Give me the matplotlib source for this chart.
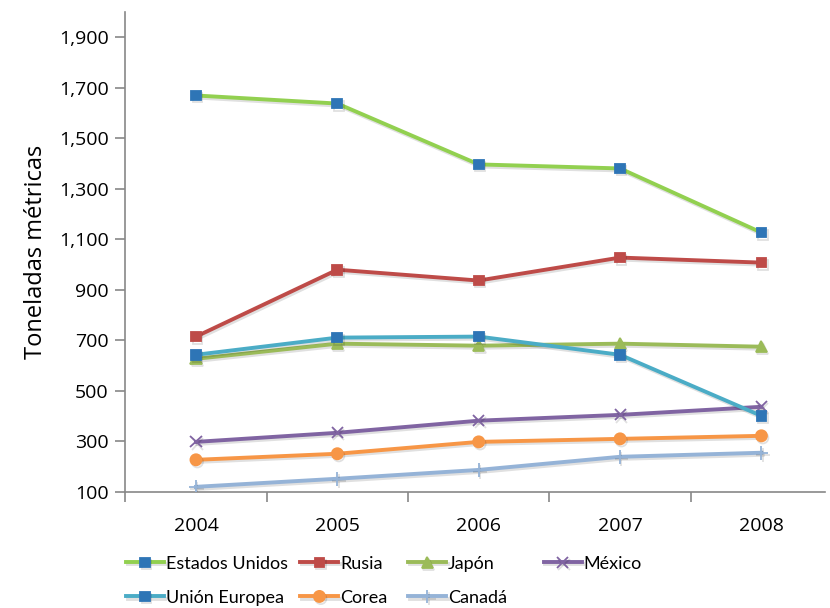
import matplotlib
matplotlib.use("Agg")
from matplotlib import pyplot as plt
from matplotlib import patheffects as pe
from matplotlib.ticker import FuncFormatter, FixedLocator

years = ["2004", "2005", "2006", "2007", "2008"]

estados_unidos = [1670, 1638, 1397, 1381, 1127]
rusia = [715, 980, 937, 1028, 1008]
japon = [627, 687, 679, 687, 675]
mexico = [298, 334, 382, 405, 437]
union_europea = [643, 711, 715, 643, 401]
corea = [227, 251, 298, 310, 322]
canada = [120, 152, 187, 239, 255]

plt.rcParams['font.family'] = ['Open Sans', 'DejaVu Sans']

fig = plt.figure(figsize=(8.3, 6.08), dpi=100)
ax = fig.add_axes([0.151, 0.191, 0.843, 0.789])

x = list(range(len(years)))
shadow = [pe.SimpleLineShadow(offset=(1, -1.5), alpha=0.12), pe.Normal()]

series = [
    ("Estados Unidos", estados_unidos, "#92D050", "s", "#2E75B6", 7),
    ("Rusia", rusia, "#BE4B48", "s", "#BE4B48", 7),
    ("Japón", japon, "#9BBB59", "^", "#9BBB59", 8),
    ("México", mexico, "#8064A2", "x", "#8064A2", 8),
    ("Unión Europea", union_europea, "#4BACC6", "s", "#2E75B6", 7),
    ("Corea", corea, "#F79646", "o", "#F79646", 8),
    ("Canadá", canada, "#95B3D7", "+", "#95B3D7", 10),
]

handles = {}
for name, vals, col, mk, mcol, ms in series:
    ln, = ax.plot(x, vals, color=col, lw=2.8, marker=mk, markersize=ms,
                  markerfacecolor=mcol, markeredgecolor=mcol, markeredgewidth=1.3,
                  label=name, path_effects=shadow, zorder=3)
    handles[name] = ln

ax.set_xlim(-0.5, 4.45)
ax.set_ylim(100, 2000)
ax.set_yticks(range(100, 2000, 200))
ax.yaxis.set_major_formatter(FuncFormatter(lambda v, p: f"{int(v):,}"))
ax.set_xticks(x)
ax.set_xticklabels(years)
ax.xaxis.set_minor_locator(FixedLocator([-0.5, 0.5, 1.5, 2.5, 3.5]))
ax.tick_params(axis='x', which='major', length=0, pad=18, labelsize=14)
ax.tick_params(axis='x', which='minor', length=7, color='#888888', width=1.2)
ax.tick_params(axis='y', length=7, color='#888888', width=1.2, labelsize=14, pad=5)

for s in ['top', 'right']:
    ax.spines[s].set_visible(False)
for s in ['left', 'bottom']:
    ax.spines[s].set_color('#888888')
    ax.spines[s].set_linewidth(1.2)

ax.set_ylabel("Toneladas métricas", fontsize=17, labelpad=8)

# legend laid out row by row, in four fixed columns
columns = [["Estados Unidos", "Unión Europea"], ["Rusia", "Corea"],
           ["Japón", "Canadá"], ["México"]]
col_x = [0.152, 0.362, 0.492, 0.655]
leg_font = {'family': ['Lato', 'DejaVu Sans'], 'size': 13}
for names, cx in zip(columns, col_x):
    fig.legend([handles[n] for n in names], names, loc='upper left',
               bbox_to_anchor=(cx, 0.086), frameon=False, prop=leg_font,
               handlelength=2.1, handletextpad=0.1, labelspacing=1.0,
               borderpad=0, borderaxespad=0)

plt.savefig("out.png", dpi=100)
